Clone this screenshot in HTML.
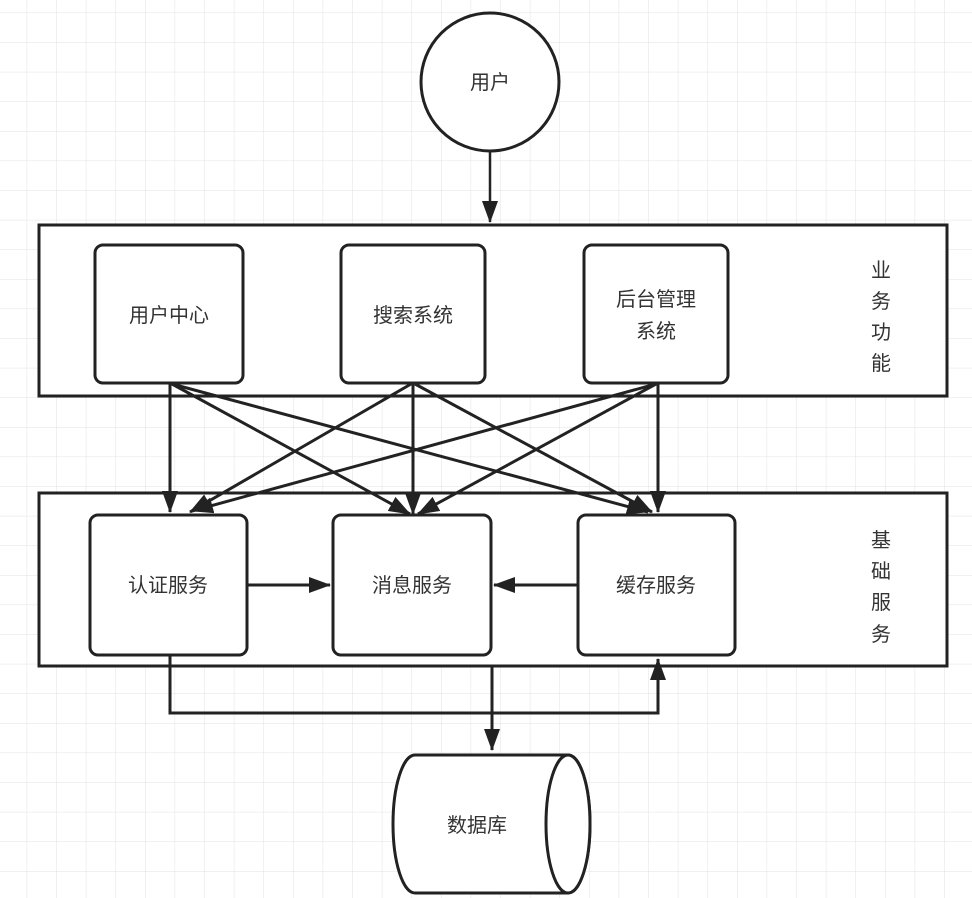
<!DOCTYPE html>
<html><head><meta charset="utf-8"><style>
html,body{margin:0;padding:0;background:#fff;}
svg{display:block;}
text{font-family:"Liberation Sans","Noto Sans CJK SC",sans-serif;font-size:20px;fill:#333;}
</style></head><body>
<svg width="972" height="898" viewBox="0 0 972 898" xmlns="http://www.w3.org/2000/svg">
<defs>
<pattern id="g" x="-2.5" y="-16.5" width="29.6" height="29.6" patternUnits="userSpaceOnUse">
<path d="M29.6 0V29.6M0 29.6H29.6" stroke="#e2e2e2" stroke-width="1" fill="none"/>
</pattern>
<marker id="a" markerWidth="22" markerHeight="16" refX="21" refY="8" orient="auto" markerUnits="userSpaceOnUse" viewBox="0 0 22 16">
<path d="M0 0L22 8L0 16Z" fill="#222"/>
</marker>
</defs>
<rect width="972" height="898" fill="url(#g)"/>
<g stroke="#222" stroke-width="3" fill="#fff">
<circle cx="490" cy="82" r="69"/>
<rect x="39" y="225" width="908" height="171"/>
<rect x="39" y="493" width="908" height="173"/>
<rect x="95" y="245" width="148" height="138" rx="8"/>
<rect x="341" y="245" width="144" height="138" rx="8"/>
<rect x="584" y="245" width="144" height="138" rx="8"/>
<rect x="90" y="515" width="157" height="140" rx="8"/>
<rect x="333" y="515" width="158" height="140" rx="8"/>
<rect x="578" y="515" width="157" height="140" rx="8"/>
<path d="M415 755H568A22 69 0 0 1 568 893H415A22 69 0 0 1 415 755Z"/>
<ellipse cx="568" cy="824" rx="22" ry="69"/>
</g>
<g stroke="#222" stroke-width="3" fill="none">
<line x1="490" y1="151" x2="490" y2="222" marker-end="url(#a)" stroke-width="2.5"/>
<line x1="170" y1="384" x2="170" y2="512" marker-end="url(#a)"/>
<line x1="413" y1="384" x2="413" y2="514" marker-end="url(#a)"/>
<line x1="658" y1="384" x2="658" y2="512" marker-end="url(#a)"/>
<line x1="172" y1="384" x2="410" y2="514" marker-end="url(#a)"/>
<line x1="172" y1="384" x2="648" y2="512" marker-end="url(#a)"/>
<line x1="411" y1="384" x2="190" y2="512" marker-end="url(#a)"/>
<line x1="415" y1="384" x2="652" y2="512" marker-end="url(#a)"/>
<line x1="656" y1="384" x2="192" y2="511" marker-end="url(#a)"/>
<line x1="656" y1="384" x2="418" y2="514" marker-end="url(#a)"/>
<line x1="247" y1="585" x2="330" y2="585" marker-end="url(#a)"/>
<line x1="578" y1="585" x2="494" y2="585" marker-end="url(#a)"/>
<polyline points="170,655 170,713 658,713 658,659" marker-end="url(#a)"/>
<line x1="492" y1="666" x2="492" y2="750" marker-end="url(#a)"/>
</g>
<g text-anchor="middle">
<text x="490" y="89">用户</text>
<text x="169" y="322">用户中心</text>
<text x="413" y="322">搜索系统</text>
<text x="656" y="306">后台管理</text>
<text x="656" y="338">系统</text>
<text x="168" y="592">认证服务</text>
<text x="412" y="592">消息服务</text>
<text x="656" y="592">缓存服务</text>
<text x="477" y="832">数据库</text>
<text x="881" y="277">业</text>
<text x="881" y="308">务</text>
<text x="881" y="339">功</text>
<text x="881" y="370">能</text>
<text x="881" y="547">基</text>
<text x="881" y="578">础</text>
<text x="881" y="609">服</text>
<text x="881" y="641">务</text>
</g>
</svg>
</body></html>
